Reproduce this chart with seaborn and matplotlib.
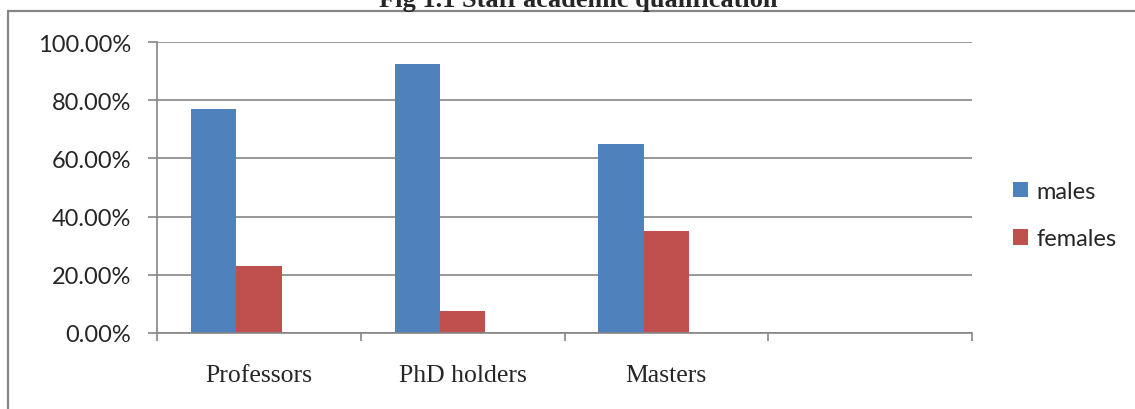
import pandas as pd
import matplotlib.pyplot as plt
import seaborn as sns
from matplotlib.lines import Line2D
from matplotlib.patches import Patch
from matplotlib.ticker import FixedLocator, FuncFormatter

# Data
categories = ["Professors", "PhD holders", "Masters"]
males = [76.9, 92.6, 65.0]
females = [23.1, 7.4, 35.0]
series = ["males", "females"]
colors = {"males": "#4F81BD", "females": "#C0504D", "blank": "#FFFFFF"}
y_ticks = [0, 20, 40, 60, 80, 100]
title = "Fig 1.1 Staff academic qualification"

df = pd.DataFrame({
    "category": categories * 2,
    "share": males + females,
    "gender": ["males"] * 3 + ["females"] * 3,
})

sns.set_style("white")
GRID = "#868686"

fig = plt.figure(figsize=(11.35, 4.10), dpi=100)
ax = fig.add_axes([157 / 1135, 1 - 334 / 410, (972 - 157) / 1135, (334 - 43) / 410])

# Excel-style layout: an empty 4th category slot and an empty 3rd series
sns.barplot(data=df, x="category", y="share", hue="gender",
            order=categories + ["empty"], hue_order=series + ["blank"],
            palette=colors, width=0.667, saturation=1, legend=False,
            edgecolor="none", ax=ax)

ax.set_xlim(-0.5, 3.5)
ax.set_ylim(0, 100)
ax.set_xlabel("")
ax.set_ylabel("")

# y axis
ax.yaxis.set_major_locator(FixedLocator(y_ticks))
ax.yaxis.set_major_formatter(FuncFormatter(lambda v, p: f"{v:.2f}%"))
ax.grid(axis="y", color=GRID, linewidth=1.2)
ax.set_axisbelow(True)
ax.tick_params(axis="y", which="major", left=True, length=6.5, width=1.2,
               color=GRID, pad=12, labelsize=17)
for lab in ax.get_yticklabels():
    lab.set_fontfamily("Lato")

# x axis: ticks on the slot boundaries, labels in slot centres
ax.xaxis.set_major_locator(FixedLocator([-0.5, 0.5, 1.5, 2.5, 3.5]))
ax.xaxis.set_minor_locator(FixedLocator([0, 1, 2, 3]))
ax.set_xticklabels([""] * 5)
ax.set_xticklabels(categories + [""], minor=True)
ax.tick_params(axis="x", which="major", bottom=True, length=6, width=1.2, color=GRID)
ax.tick_params(axis="x", which="minor", bottom=True, length=0, pad=22, labelsize=18.5)
for lab in ax.get_xticklabels(minor=True):
    lab.set_fontfamily("Liberation Serif")

for side in ["top", "right"]:
    ax.spines[side].set_visible(False)
for side in ["left", "bottom"]:
    ax.spines[side].set_color(GRID)
    ax.spines[side].set_linewidth(1.2)

# legend
handles = [Patch(facecolor=colors[s], edgecolor="none") for s in series]
leg = fig.legend(handles, series, loc="center left",
                 bbox_to_anchor=(992 / 1135, 1 - 216 / 410), frameon=False,
                 handlelength=0.62, handleheight=0.62, handletextpad=0.35,
                 labelspacing=1.12, prop={"family": "Lato", "size": 17})

# outer chart frame (only the top and left edges are inside the image)
fig.add_artist(Line2D([8 / 1135, 8 / 1135], [0, 1 - 12 / 410], color=GRID, linewidth=1.6))
fig.add_artist(Line2D([8 / 1135, 1], [1 - 12 / 410, 1 - 12 / 410], color=GRID, linewidth=1.6))

# title, cut off at the top like the reference
fig.text(578 / 1135, 1 - 7 / 410, title, ha="center", va="baseline",
         fontsize=19, fontweight="bold", family="Liberation Serif")

fig.savefig("out.png", dpi=100)
